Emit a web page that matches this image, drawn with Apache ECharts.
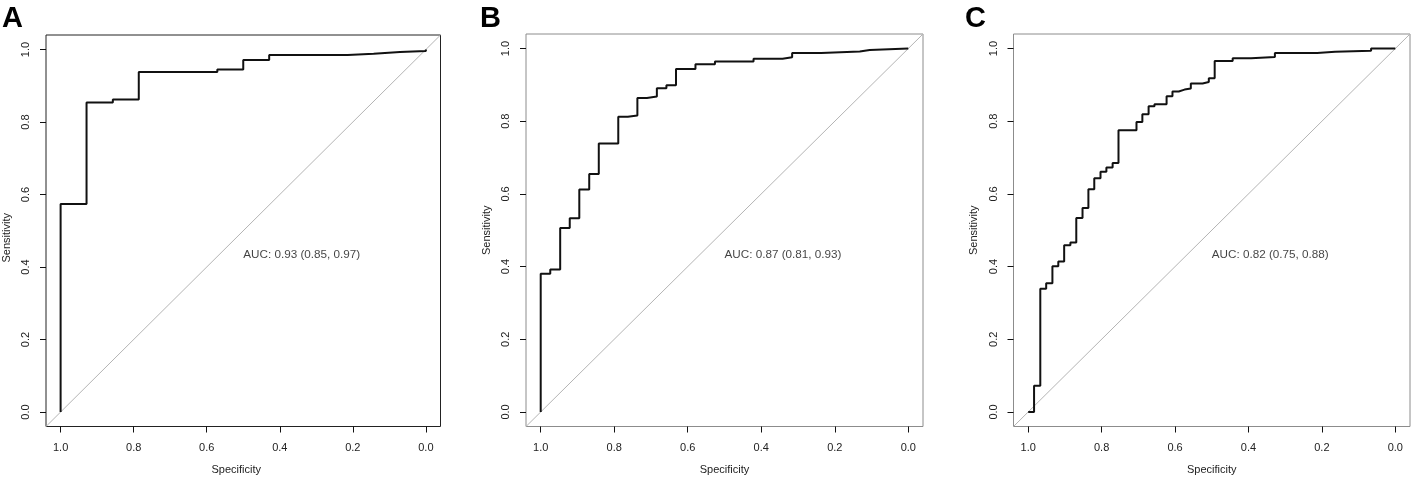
<!DOCTYPE html>
<html>
<head>
<meta charset="utf-8">
<script src="https://cdn.jsdelivr.net/npm/echarts@6/dist/echarts.min.js"></script>
<style>
html,body{margin:0;padding:0;background:#fff;}
#chart{width:1411px;height:480px;}
</style>
</head>
<body>
<div id="chart"></div>
<script>
// ---------- data ----------
const panelLetters = ['A', 'B', 'C'];
const aucTexts = ['AUC: 0.93 (0.85, 0.97)', 'AUC: 0.87 (0.81, 0.93)', 'AUC: 0.82 (0.75, 0.88)'];
const xAxisTitle = 'Specificity';
const yAxisTitle = 'Sensitivity';
const tickValues = [0, 0.2, 0.4, 0.6, 0.8, 1.0];
const tickLabels = ['0.0', '0.2', '0.4', '0.6', '0.8', '1.0'];

// ROC corner points (specificity, sensitivity) at the top of each rise
const specA = [1, 1, 0.929, 0.857, 0.786, 0.571, 0.500, 0.429, 0.214, 0.143, 0.071, 0];
const sensA = [0, 0.574, 0.854, 0.862, 0.938, 0.945, 0.971, 0.985, 0.988, 0.993, 0.996, 1.0];

const specB = [1, 1, 0.974, 0.947, 0.921, 0.895, 0.868, 0.842, 0.789, 0.763, 0.737, 0.711, 0.684, 0.658, 0.632, 0.579, 0.526, 0.421, 0.342, 0.316, 0.237, 0.132, 0.105, 0];
const sensB = [0, 0.380, 0.392, 0.506, 0.533, 0.612, 0.655, 0.739, 0.812, 0.816, 0.864, 0.868, 0.891, 0.899, 0.944, 0.957, 0.964, 0.972, 0.976, 0.988, 0.992, 0.996, 1.0, 1.0];

const specC = [1, 0.984, 0.967, 0.951, 0.934, 0.918, 0.902, 0.885, 0.869, 0.852, 0.836, 0.820, 0.803, 0.787, 0.770, 0.754, 0.705, 0.689, 0.672, 0.656, 0.623, 0.607, 0.590, 0.574, 0.557, 0.525, 0.508, 0.492, 0.443, 0.393, 0.328, 0.213, 0.164, 0.066, 0];
const sensC = [0, 0.072, 0.339, 0.354, 0.401, 0.414, 0.459, 0.466, 0.534, 0.561, 0.613, 0.643, 0.661, 0.673, 0.685, 0.775, 0.798, 0.819, 0.841, 0.847, 0.869, 0.882, 0.887, 0.890, 0.904, 0.908, 0.918, 0.966, 0.973, 0.977, 0.988, 0.991, 0.994, 1.0, 1.0];

const specs = [specA, specB, specC];
const senss = [sensA, sensB, sensC];

// axis extent (R-style 4% padding)
const axMin = -0.04, axMax = 1.04;

// ---------- layout ----------
const grids = [
  {left: 44.5, top: 35, width: 396, height: 396, border: '#222'},
  {left: 526, top: 34, width: 397, height: 397, border: '#8c8c8c'},
  {left: 1013.5, top: 34, width: 396.5, height: 397, border: '#8c8c8c'}
];
const letterX = [2, 480, 965];
const FONT = '"Liberation Sans", Arial, Helvetica, sans-serif';
const tickStyle = {show: true, inside: false, length: 6, customValues: tickValues, lineStyle: {color: '#111', width: 1}};
const fmt = v => tickLabels[tickValues.findIndex(t => Math.abs(t - v) < 1e-9)];

const option = {
  animation: false,
  backgroundColor: '#fff',
  grid: grids.map(g => ({
    left: g.left, top: g.top, width: g.width, height: g.height,
    show: true, borderColor: g.border, borderWidth: 1, containLabel: false
  })),
  xAxis: grids.map((g, i) => ({
    type: 'value', gridIndex: i, inverse: true, min: axMin, max: axMax, position: 'bottom',
    name: xAxisTitle, nameLocation: 'middle', nameGap: 37.5,
    nameTextStyle: {fontFamily: FONT, fontSize: 11, color: '#222', padding: i === 0 ? [0, 14, 0, 0] : 0},
    axisLine: {show: false, onZero: false},
    splitLine: {show: false},
    axisTick: tickStyle,
    axisLabel: {show: true, customValues: tickValues, margin: 16, fontFamily: FONT, fontSize: 11, color: '#222', formatter: fmt}
  })),
  yAxis: grids.map((g, i) => ({
    type: 'value', gridIndex: i, min: axMin, max: axMax, position: 'left',
    name: yAxisTitle, nameLocation: 'middle', nameGap: 34,
    nameTextStyle: {fontFamily: FONT, fontSize: 11, color: '#222', padding: i === 0 ? [0, 14, 0, 0] : 0},
    axisLine: {show: false, onZero: false},
    splitLine: {show: false},
    axisTick: tickStyle,
    axisLabel: {show: true, rotate: 90, customValues: tickValues, margin: 14.5, fontFamily: FONT, fontSize: 11, color: '#222', formatter: fmt}
  })),
  series: [],
  graphic: panelLetters.map((L, i) => ({
    type: 'text', left: letterX[i], top: 4,
    style: {text: L, fontFamily: FONT, fontWeight: 'bold', fontSize: 29, fill: '#000'}
  }))
};

for (let i = 0; i < 3; i++) {
  // chance diagonal across the whole plotting region
  option.series.push({
    type: 'line', xAxisIndex: i, yAxisIndex: i, symbol: 'none', silent: true,
    data: [[axMax, axMin], [axMin, axMax]],
    lineStyle: {color: '#b4b4b4', width: 1}, z: 1
  });
  // ROC curve
  option.series.push({
    type: 'line', xAxisIndex: i, yAxisIndex: i, symbol: 'none', step: 'end',
    data: specs[i].map((s, j) => [s, senss[i][j]]),
    lineStyle: {color: '#111', width: 2}, z: 3
  });
  // AUC label anchored at specificity 0.5
  option.series.push({
    type: 'scatter', xAxisIndex: i, yAxisIndex: i, symbolSize: 0, silent: true,
    data: [[0.5, 0.433]],
    label: {show: true, position: 'right', distance: 0, formatter: aucTexts[i],
      fontFamily: FONT, fontSize: 11.7, color: '#111'}
  });
}

const chart = echarts.init(document.getElementById('chart'), null, {renderer: 'canvas'});
chart.setOption(option);
</script>
</body>
</html>
